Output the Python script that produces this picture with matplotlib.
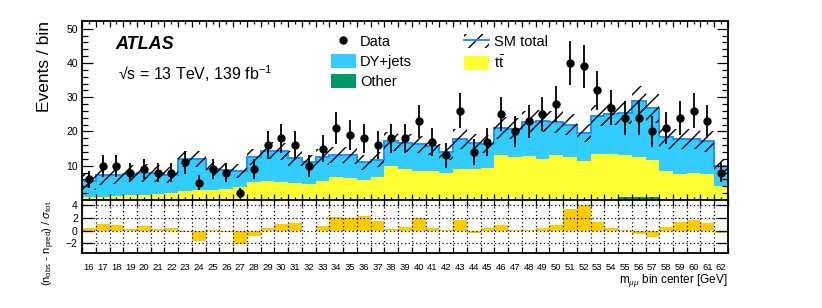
import numpy as np
import matplotlib.pyplot as plt
from matplotlib.patches import Patch
from matplotlib.lines import Line2D
from matplotlib.collections import LineCollection

plt.rcParams['font.family'] = ['Liberation Sans', 'DejaVu Sans']
plt.rcParams['mathtext.fontset'] = 'custom'
plt.rcParams['mathtext.rm'] = 'Liberation Sans'
plt.rcParams['mathtext.it'] = 'Liberation Sans:italic'
plt.rcParams['hatch.linewidth'] = 1.0

# bin centres of m_mumu [GeV]
bins = np.arange(16, 63)

data = [6, 10, 10, 8, 9, 8, 8, 11, 5, 9, 8, 2, 9, 16, 18, 16, 10, 15, 21, 19,
        18, 16, 18, 18, 23, 17, 13, 26, 14, 17, 25, 20, 23, 25, 28, 40, 39, 32,
        27, 24, 24, 20, 21, 24, 26, 23, 8]
data_err = [2.4, 3.2, 3.2, 2.8, 3.0, 2.8, 2.8, 3.3, 2.2, 3.0, 2.8, 1.4, 3.0, 4.0,
            4.2, 4.0, 3.2, 3.9, 4.6, 4.4, 4.2, 4.0, 4.2, 4.2, 4.8, 4.1, 3.6, 5.1,
            3.7, 4.1, 5.0, 4.5, 4.8, 5.0, 5.3, 6.3, 6.2, 5.7, 5.2, 4.9, 4.9, 4.5,
            4.6, 4.9, 5.1, 4.8, 2.8]

other = [0.2, 0.2, 0.2, 0.2, 0.2, 0.2, 0.2, 0.2, 0.2, 0.2, 0.2, 0.2, 0.2, 0.2,
         0.2, 0.2, 0.2, 0.2, 0.2, 0.2, 0.2, 0.2, 0.3, 0.3, 0.3, 0.3, 0.3, 0.3,
         0.3, 0.3, 0.4, 0.4, 0.4, 0.4, 0.4, 0.4, 0.4, 0.4, 0.4, 0.7, 0.7, 0.7,
         0.4, 0.4, 0.4, 0.4, 0.4]
ttbar = [0.6, 0.7, 0.9, 1.1, 1.3, 1.6, 1.9, 2.5, 2.7, 2.8, 3.0, 3.5, 5.0, 5.3,
         5.0, 4.6, 4.5, 5.3, 6.6, 6.3, 5.6, 6.6, 9.6, 8.6, 8.1, 8.1, 7.6, 8.8,
         8.6, 9.1, 12.8, 12.2, 12.4, 11.6, 12.6, 12.2, 10.9, 12.9, 13.1, 12.4,
         11.8, 11.1, 8.0, 7.3, 7.5, 7.3, 3.8]
dyjets = [4.6, 6.3, 6.2, 6.4, 6.3, 6.0, 5.1, 9.3, 9.1, 6.0, 5.6, 4.7, 7.4, 8.9,
          9.0, 7.3, 6.3, 7.0, 6.4, 6.5, 5.2, 5.0, 7.2, 7.8, 7.8, 7.3, 6.1, 8.8,
          7.8, 7.0, 7.8, 8.2, 10.0, 11.0, 9.7, 9.4, 8.3, 11.3, 11.6, 12.3, 16.5,
          15.0, 10.0, 10.1, 9.9, 9.4, 5.6]
sm_unc = [2.6, 2.8, 2.8, 2.6, 2.6, 2.5, 2.4, 2.4, 2.4, 2.0, 2.0, 2.0, 2.4, 2.5,
          2.5, 2.3, 2.2, 2.3, 2.4, 2.4, 2.2, 2.2, 2.8, 2.7, 2.6, 2.5, 2.3, 2.9,
          2.7, 2.7, 3.3, 3.0, 3.2, 3.2, 3.2, 3.0, 2.7, 3.0, 3.1, 3.2, 4.4, 4.2,
          3.5, 3.0, 3.0, 3.0, 2.0]

# (n_obs - n_pred) / sigma_tot
pull = [0.4, 1.0, 0.9, 0.25, 0.7, 0.2, 0.4, -0.15, -1.65, 0.03, -0.15, -2.1,
        -0.85, 0.45, 1.1, 1.2, -0.05, 0.75, 2.1, 1.9, 2.25, 1.45, 0.25, 0.5,
        2.0, 0.45, 0.03, 1.7, -0.4, 0.35, 0.85, 0.05, 0.05, 0.45, 0.9, 3.3,
        3.95, 1.35, 0.4, 0.05, -0.6, -1.0, 0.5, 1.35, 1.7, 1.25, -0.3]

c_dy = '#33CCFF'
c_tt = '#FFFF33'
c_other = '#009966'
c_sm = '#1E90FF'
c_pull = '#FFCC00'

edges = np.append(bins - 0.5, bins[-1] + 0.5)

fig = plt.figure(figsize=(8.22, 3.08), dpi=100)
ax = fig.add_axes([0.0998, 0.351, 0.7858, 0.581])
ax2 = fig.add_axes([0.0998, 0.1786, 0.7858, 0.1724], sharex=ax)

ax.set_xlim(edges[0], edges[-1])
ax.set_ylim(0, 52.3)

# stacked backgrounds
other_a = np.array(other)
tt_a = np.array(ttbar)
dy_a = np.array(dyjets)
total = other_a + tt_a + dy_a
ax.stairs(other_a, edges, fill=True, color=c_other, lw=0)
ax.stairs(other_a + tt_a, edges, baseline=other_a, fill=True, color=c_tt, lw=0)
ax.stairs(total, edges, baseline=other_a + tt_a, fill=True, color=c_dy, lw=0)
ax.stairs(total, edges, color=c_sm, lw=1.4)

# uncertainty band, hatched by hand with 45 deg lines ~13 px apart
unc = np.array(sm_unc)
band = ax.fill_between(edges, np.append(total - unc, total[-1] - unc[-1]),
                       np.append(total + unc, total[-1] + unc[-1]), step='post',
                       facecolor='none', lw=0)
bb = ax.get_window_extent()
to_data = ax.transData.inverted()
segs = []
for c in np.arange(bb.x0 - bb.height, bb.x1, 13.0):
    p = to_data.transform([[c, bb.y0], [c + bb.height, bb.y1]])
    segs.append(p)
hatch = LineCollection(segs, colors='black', linewidths=1.0)
hatch.set_clip_path(band.get_paths()[0], ax.transData)
ax.add_collection(hatch)

ax.errorbar(bins, data, yerr=data_err, fmt='o', color='black', ms=5,
            elinewidth=1.3, capsize=0)

ax.set_xlim(edges[0], edges[-1])
ax.set_ylim(0, 52.3)
ax.set_yticks([10, 20, 30, 40, 50])
ax.set_yticks(np.arange(2, 52, 2), minor=True)
ax.set_xticks(edges)
ax.tick_params(axis='x', which='both', labelbottom=False)
ax.tick_params(axis='both', which='both', direction='in', top=True, right=True,
               labelsize=7.5, width=0.9)
ax.tick_params(axis='y', which='major', length=8, pad=3)
ax.tick_params(axis='y', which='minor', length=4)
ax.tick_params(axis='x', which='major', length=4.5)
ax.set_ylabel('Events / bin', fontsize=12.5, loc='top')
ax.yaxis.set_label_coords(-0.046, 1.0)

ax.text(0.052, 0.845, 'ATLAS', transform=ax.transAxes, fontsize=13,
        fontweight='bold', fontstyle='italic')
ax.text(0.056, 0.67, '\u221as = 13 TeV, 139 fb$^{\\mathregular{-1}}$',
        transform=ax.transAxes, fontsize=11.5)

handles = [
    Line2D([], [], marker='o', color='black', ls='none', ms=5),
    Patch(facecolor=c_dy, edgecolor='none'),
    Patch(facecolor=c_other, edgecolor='none'),
    (Patch(facecolor='none', edgecolor='black', hatch='//', lw=0),
     Line2D([], [], color=c_sm, lw=1.4)),
    Patch(facecolor=c_tt, edgecolor='none'),
]
labels = ['Data', 'DY+jets', 'Other', 'SM total', r'$\mathrm{t\bar{t}}$']
ax.legend(handles, labels, ncol=2, loc='upper left',
          bbox_to_anchor=(0.385, 0.925), frameon=False, fontsize=10.5,
          handlelength=1.7, handleheight=1.1, handletextpad=0.3,
          labelspacing=0.32, columnspacing=3.6, borderpad=0, borderaxespad=0)

# pull panel
ax2.bar(bins, pull, width=1.0, color=c_pull, lw=0)
ax2.set_ylim(-3.5, 4.8)
ax2.set_yticks([-2, 0, 2, 4])
ax2.set_yticklabels(['\u22122', '0', '2', '4'])
ax2.set_xticks(edges)
ax2.set_xticks(bins, [str(b) for b in bins], minor=True)
ax2.grid(True, which='major', ls=(0, (1, 2)), color='black', lw=0.9)
ax2.tick_params(axis='both', which='major', direction='in', top=True,
                right=True, labelsize=7.5, width=0.9)
ax2.tick_params(axis='y', which='major', length=8, pad=3)
ax2.tick_params(axis='x', which='major', length=4, labelbottom=False)
ax2.tick_params(axis='x', which='minor', length=0, labelsize=6.8, pad=7)
ax2.set_ylabel(r'(n$_{\mathrm{obs}}$ - n$_{\mathrm{pred}}$) / $\sigma_{\mathrm{tot}}$',
               fontsize=8)
ax2.yaxis.set_label_coords(-0.039, 0.19)
ax2.set_xlabel(r'm$_{\mu\mu}$ bin center [GeV]', fontsize=8.5, loc='right')
ax2.xaxis.set_label_coords(1.0, -0.36)

for a in (ax, ax2):
    for sp in a.spines.values():
        sp.set_linewidth(1.3)

fig.savefig('out.png', dpi=100)
